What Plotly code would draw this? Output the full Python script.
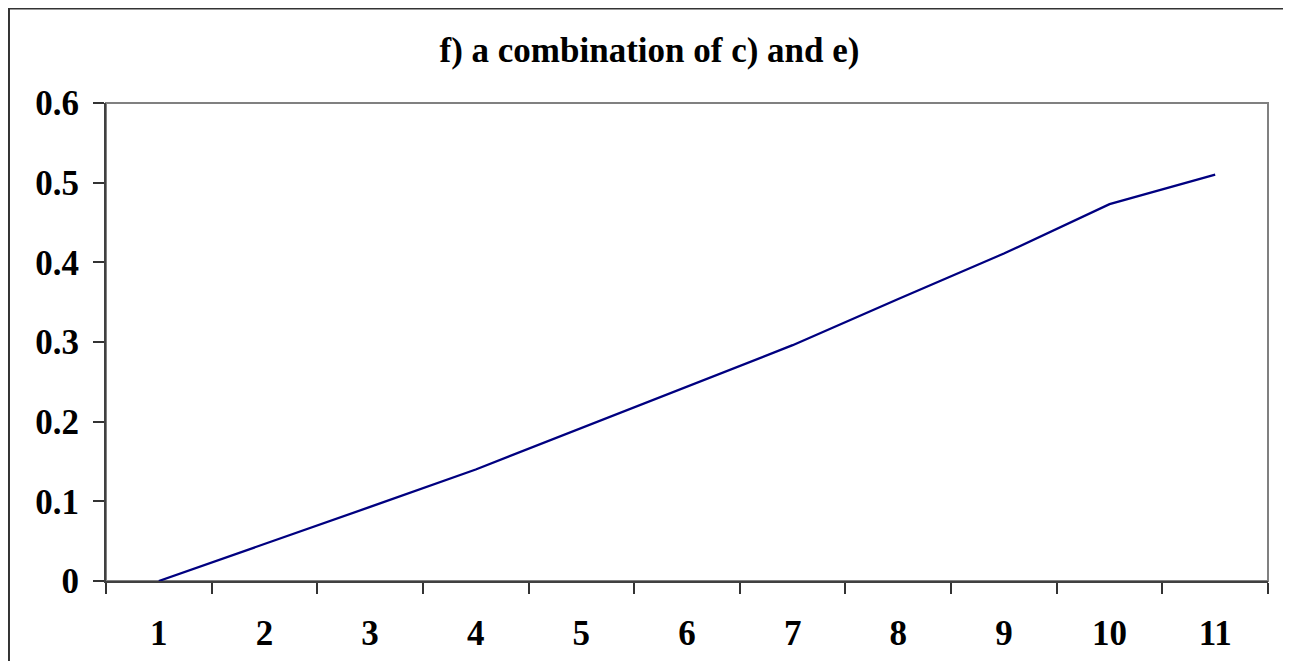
import plotly.graph_objects as go

categories = ["1", "2", "3", "4", "5", "6", "7", "8", "9", "10", "11"]
values = [0, 0.047, 0.093, 0.14, 0.192, 0.245, 0.296, 0.354, 0.411, 0.473, 0.51]
y_ticks = [0, 0.1, 0.2, 0.3, 0.4, 0.5, 0.6]
y_labels = ["0", "0.1", "0.2", "0.3", "0.4", "0.5", "0.6"]
title = "f) a combination of c) and e)"

FONT = "Liberation Serif, Times New Roman, serif"

fig = go.Figure()
fig.add_trace(go.Scatter(
    x=categories, y=values, mode="lines",
    line=dict(color="#000080", width=2.3),
    showlegend=False,
))

# plot-area frame (top/right grey), outer chart border
fig.add_shape(type="rect", xref="paper", yref="paper", x0=0, x1=1, y0=0, y1=1,
              line=dict(color="#808080", width=2), layer="below")
fig.add_shape(type="rect", xref="paper", yref="paper",
              x0=-0.0835, x1=1.0172, y0=-0.2, y1=1.1977,
              line=dict(color="#333333", width=2))

# page body has an 8px margin, so the figure is 8px smaller than the window
fig.update_layout(
    width=1283, height=653,
    margin=dict(l=98, r=23, t=95, b=80),
    paper_bgcolor="white", plot_bgcolor="white",
    font=dict(family=FONT, size=35, color="black", weight="bold"),
    title=dict(text=title, x=0.5, xref="container", y=1 - 42 / 653,
               yref="container", yanchor="middle", xanchor="center",
               font=dict(family=FONT, size=35, color="black", weight="bold")),
)
fig.update_xaxes(
    type="category", range=[-0.5, len(categories) - 0.5], automargin=False,
    tickson="boundaries", ticks="outside", ticklen=11,
    tickcolor="#333333", tickwidth=1.5, showline=True, linecolor="#404040",
    linewidth=2, showgrid=False, zeroline=False, ticklabelstandoff=20,
)
fig.update_yaxes(
    range=[0, 0.6], tickvals=y_ticks, ticktext=y_labels, ticks="outside",
    automargin=False,
    ticklen=11, tickcolor="#333333", tickwidth=1.5, showline=True,
    linecolor="#404040", linewidth=2, showgrid=False, zeroline=False,
    ticklabelstandoff=7,
)

fig.write_html("out.html")
